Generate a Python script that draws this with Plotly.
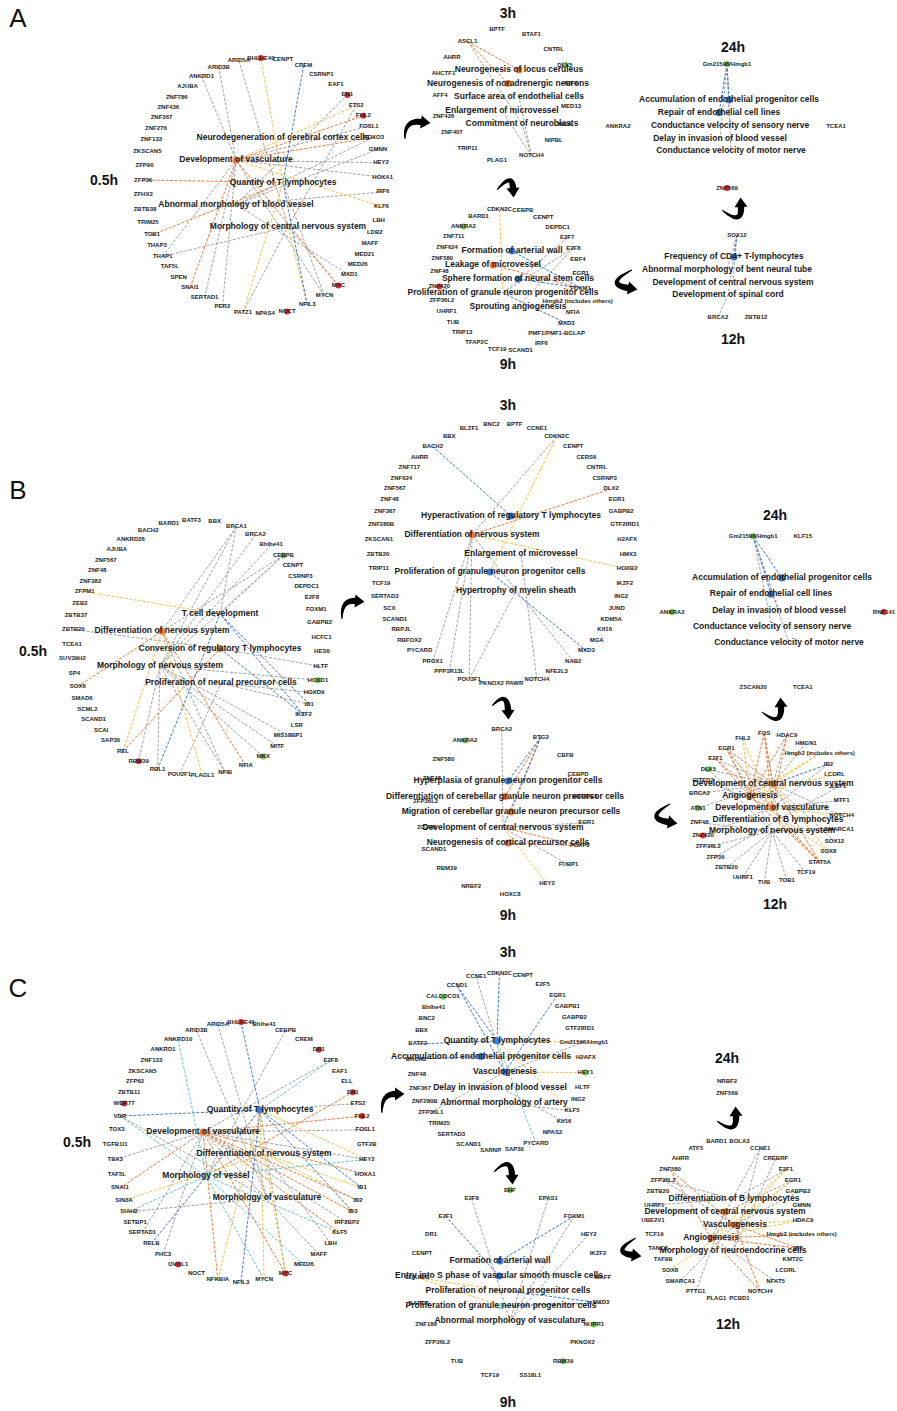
import math
import plotly.graph_objects as go

# ---------------------------------------------------------------- panel A
A05_GENES = ["AJUBA", "ANKRD1", "ARID3B", "ARID5A", "BHLHE40", "CENPT", "CREM", "CSRNP1", "EAF1", "EN1",
             "ETS2", "FHL2", "FOSL1", "FOXO3", "GMNN", "HEY2", "HOXA1", "IRF6", "KLF6", "LBH",
             "LDB2", "MAFF", "MED21", "MED26", "MXD1", "MYC", "MYCN", "NFIL3", "NOCT", "NPAS4",
             "PATZ1", "PER2", "SERTAD1", "SNAI1", "SPEN", "TAF5L", "THAP1", "THAP3", "TOB1", "TRIM25",
             "ZBTB38", "ZFHX2", "ZFP36", "ZFP90", "ZKSCAN5", "ZNF133", "ZNF276", "ZNF367", "ZNF436", "ZNF786"]
A05_FUNCS = ["Neurodegeneration of cerebral cortex cells", "Development of vasculature",
             "Quantity of T lymphocytes", "Abnormal morphology of blood vessel",
             "Morphology of central nervous system"]
A05_FUNC_STATE = [None, "act", None, None, None]
A05_REG = {"BHLHE40": "up", "EN1": "up", "FHL2": "up", "MYC": "up", "NOCT": "up"}
A05_EDGES = [("FHL2", 1, "act"), ("FOXO3", 1, "act"), ("ZFP36", 2, "act"), ("TOB1", 2, "act"),
             ("SNAI1", 1, "act"), ("MYC", 1, "act"),
             ("BHLHE40", 2, "inc"), ("ETS2", 1, "inc"), ("KLF6", 1, "inc"), ("PATZ1", 2, "inc"),
             ("NFIL3", 4, "inc"), ("CREM", 2, "inh"), ("NFIL3", 2, "inh"),
             ("ARID5A", 4, "unk"), ("ARID3B", 1, "unk"), ("ANKRD1", 1, "unk"), ("EN1", 3, "unk"),
             ("ETS2", 4, "unk"), ("FOSL1", 1, "unk"), ("GMNN", 3, "unk"), ("HEY2", 1, "unk"),
             ("HOXA1", 1, "unk"), ("IRF6", 3, "unk"), ("THAP1", 1, "unk"), ("THAP1", 4, "unk"),
             ("SERTAD1", 1, "unk"), ("PER2", 1, "unk"), ("PATZ1", 4, "unk"), ("MYCN", 1, "unk"),
             ("MYCN", 2, "unk"), ("MYC", 4, "unk"), ("MXD1", 3, "unk"), ("FOXO3", 3, "unk")]

A03_GENES = ["AFF4", "AHCTF1", "AHRR", "ASCL1", "BPTF", "BTAF1", "CNTRL", "DLX5", "IRF6", "MED13",
             "MGA", "NIPBL", "NOTCH4", "PLAG1", "TRIP11", "ZNF407", "ZNF426"]
A03_FUNCS = ["Neurogenesis of locus ceruleus", "Neurogenesis of noradrenergic neurons",
             "Surface area of endothelial cells", "Enlargement of microvessel", "Commitment of neuroblasts"]
A03_FUNC_STATE = ["act", "act", None, None, None]
A03_REG = {"DLX5": "down"}
A03_EDGES = [("ASCL1", 0, "act"), ("ASCL1", 1, "act"), ("ASCL1", 4, "unk"),
             ("NOTCH4", 2, "unk"), ("NOTCH4", 3, "unk"), ("NOTCH4", 4, "unk")]

A09_GENES = ["ANKRA2", "BARD1", "CDKN2C", "CEBPB", "CENPT", "DEPDC1", "E2F7", "E2F8", "EBF4", "EGR1",
             "FOXM1", "Hmgb2 (includes others)", "NFIA", "MXD3", "PMF1/PMF1-BGLAP", "IRF6", "SCAND1",
             "TCF19", "TFAP2C", "TRIP13", "TUB", "UHRF1", "ZFP36L2", "ZNF420", "ZNF48", "ZNF580",
             "ZNF624", "ZNF711"]
A09_FUNCS = ["Formation of arterial wall", "Leakage of microvessel", "Sphere formation of neural stem cells",
             "Proliferation of granule neuron progenitor cells", "Sprouting angiogenesis"]
A09_FUNC_STATE = ["inh", "act", "inh", None, None]
A09_REG = {"ZNF420": "up", "ANKRA2": "down"}
A09_EDGES = [("CDKN2C", 3, "inc"), ("FOXM1", 0, "inh"), ("FOXM1", 1, "act"), ("FOXM1", 2, "inh"),
             ("E2F7", 3, "unk"), ("E2F8", 3, "unk"), ("E2F8", 4, "unk"), ("MXD3", 3, "inh")]

A24_GENES = ["ANKRA2", "Gm21596/Hmgb1", "TCEA1", "ZNF569"]
A24_FUNCS = ["Accumulation of endothelial progenitor cells", "Repair of endothelial cell lines",
             "Conductance velocity of sensory nerve", "Delay in invasion of blood vessel",
             "Conductance velocity of motor nerve"]
A24_FUNC_STATE = ["inh", "inh", None, None, None]
A24_REG = {"Gm21596/Hmgb1": "down", "ZNF569": "up"}
A24_EDGES = [("Gm21596/Hmgb1", 0, "inh"), ("Gm21596/Hmgb1", 1, "inh"), ("Gm21596/Hmgb1", 2, "unk"),
             ("Gm21596/Hmgb1", 3, "unk"), ("Gm21596/Hmgb1", 4, "unk")]

A12_GENES = ["BRCA2", "SOX12", "ZBTB12"]
A12_FUNCS = ["Frequency of CD4+ T-lymphocytes", "Abnormal morphology of bent neural tube",
             "Development of central nervous system", "Development of spinal cord"]
A12_FUNC_STATE = ["inh", None, None, None]
A12_REG = {}
A12_EDGES = [("SOX12", 0, "inh"), ("SOX12", 1, "unk"), ("SOX12", 2, "unk"), ("SOX12", 3, "unk"),
             ("BRCA2", 3, "unk")]

# ---------------------------------------------------------------- panel B
B05_GENES = ["AJUBA", "ANKRD26", "BACH2", "BARD1", "BATF3", "BBX", "BRCA1", "BRCA2", "Bhlhe41", "CEBPB",
             "CENPT", "CSRNP3", "DEPDC1", "E2F8", "FOXM1", "GABPB2", "HCFC1", "HES6", "HLTF", "HOXD1",
             "HOXD9", "ID1", "IKZF2", "LSR", "MIS18BP1", "MITF", "MKX", "NFIA", "NFIB", "PLAGL1",
             "POU2F1", "RBL1", "RBM39", "REL", "SAP30", "SCAI", "SCAND1", "SCML2", "SMAD6", "SOX6",
             "SP4", "SUV39H2", "TCEA1", "ZBTB20", "ZBTB37", "ZEB2", "ZFPM1", "ZNF382", "ZNF48", "ZNF567"]
B05_FUNCS = ["T cell development", "Differentiation of nervous system",
             "Conversion of regulatory T lymphocytes", "Morphology of nervous system",
             "Proliferation of neural precursor cells"]
B05_FUNC_STATE = [None, "act", "act", None, None]
B05_REG = {"CEBPB": "down", "HOXD1": "down", "MKX": "down", "RBM39": "up"}
B05_EDGES = [("ZFPM1", 0, "inc"), ("SOX6", 1, "act"), ("ZBTB20", 2, "unk"), ("REL", 2, "act"),
             ("REL", 1, "inc"), ("RBL1", 0, "inh"), ("RBM39", 3, "unk"), ("POU2F1", 4, "unk"),
             ("PLAGL1", 1, "inc"), ("NFIB", 3, "unk"), ("NFIB", 1, "unk"), ("NFIA", 1, "act"),
             ("MKX", 3, "unk"), ("MITF", 3, "unk"), ("MIS18BP1", 3, "unk"), ("IKZF2", 0, "inh"),
             ("IKZF2", 2, "inh"), ("ID1", 0, "inh"), ("ID1", 4, "unk"), ("HOXD1", 3, "unk"),
             ("HLTF", 2, "unk"), ("HOXD9", 4, "unk"), ("CEBPB", 0, "unk"), ("CEBPB", 1, "unk"),
             ("CEBPB", 3, "unk"), ("Bhlhe41", 3, "unk"), ("BRCA1", 3, "unk"), ("BRCA1", 1, "unk"),
             ("BRCA2", 3, "unk"), ("BRCA1", 0, "unk"), ("RBL1", 3, "unk")]

B03_GENES = ["AHRR", "BACH2", "BBX", "BLZF1", "BNC2", "BPTF", "CCNE1", "CDKN2C", "CENPT", "CERS6",
             "CNTRL", "CSRNP3", "DLX2", "EGR1", "GABPB2", "GTF2IRD1", "H2AFX", "HMX3", "HOXB2", "IKZF2",
             "ING2", "JUND", "KDM5A", "Klf16", "MGA", "MXD3", "NAB2", "NFE2L3", "NOTCH4", "PAWR",
             "PKNOX2", "POU3F1", "PPP1R13L", "PROX1", "PYCARD", "RBFOX2", "RBPJL", "SCAND1", "SCX",
             "SERTAD3", "TCF19", "TRIP11", "ZBTB20", "ZKSCAN1", "ZNF280B", "ZNF367", "ZNF48", "ZNF567",
             "ZNF624", "ZNF717"]
B03_FUNCS = ["Hyperactivation of regulatory T lymphocytes", "Differentiation of nervous system",
             "Enlargement of microvessel", "Proliferation of granule neuron progenitor cells",
             "Hypertrophy of myelin sheath"]
B03_FUNC_STATE = ["inh", "act", None, "inh", None]
B03_REG = {}
B03_EDGES = [("BACH2", 0, "inh"), ("DLX2", 1, "act"), ("CDKN2C", 1, "unk"), ("CDKN2C", 3, "inc"),
             ("HOXB2", 1, "inc"), ("MXD3", 3, "inh"), ("PROX1", 1, "unk"), ("POU3F1", 1, "unk"),
             ("POU3F1", 4, "unk"), ("NAB2", 1, "unk"), ("NOTCH4", 2, "unk"), ("PPP1R13L", 1, "unk")]

B09_GENES = ["ANKRA2", "BRCA2", "BTG2", "CBFB", "CEBPD", "DEPDC1", "EGR1", "FOXP2", "FUBP1", "HEY2",
             "HOXC8", "NRBF2", "RBM39", "SCAND1", "ZC3H8", "ZFP36L2", "ZNF48", "ZNF580"]
B09_FUNCS = ["Hyperplasia of granule neuron progenitor cells",
             "Differentiation of cerebellar granule neuron precursor cells",
             "Migration of cerebellar granule neuron precursor cells",
             "Development of central nervous system", "Neurogenesis of cortical precursor cells"]
B09_FUNC_STATE = ["inh", "act", "act", None, "act"]
B09_REG = {"ANKRA2": "down"}
B09_EDGES = [("BRCA2", 3, "unk"), ("BTG2", 0, "inh"), ("BTG2", 1, "act"), ("BTG2", 2, "act"),
             ("BTG2", 3, "inh"), ("EGR1", 3, "unk"), ("FOXP2", 3, "act"), ("FOXP2", 4, "act"),
             ("FUBP1", 3, "unk"), ("HEY2", 3, "inc")]

B24_GENES = ["ANKRA2", "Gm21596/Hmgb1", "KLF15", "RNF141", "TCEA1", "ZSCAN20"]
B24_FUNCS = ["Accumulation of endothelial progenitor cells", "Repair of endothelial cell lines",
             "Delay in invasion of blood vessel", "Conductance velocity of sensory nerve",
             "Conductance velocity of motor nerve"]
B24_FUNC_STATE = ["inh", "inh", None, None, None]
B24_REG = {"Gm21596/Hmgb1": "down", "ANKRA2": "down", "RNF141": "up"}
B24_EDGES = [("Gm21596/Hmgb1", 0, "inh"), ("Gm21596/Hmgb1", 1, "inh"), ("Gm21596/Hmgb1", 2, "unk"),
             ("Gm21596/Hmgb1", 3, "unk"), ("Gm21596/Hmgb1", 4, "unk")]

B12_GENES = ["ATN1", "BRCA2", "CITED2", "DLX5", "E2F1", "EGR1", "FHL2", "FOS", "HDAC9", "HMGN1",
             "Hmgb2 (includes others)", "ID2", "LCORL", "LEF1", "MTF1", "NOTCH4", "SMARCA1", "SOX12",
             "SOX8", "STAT5A", "TCF19", "TOB1", "TUB", "UHRF1", "ZBTB20", "ZFP36", "ZFP36L2", "ZNF420",
             "ZNF48"]
B12_FUNCS = ["Development of central nervous system", "Angiogenesis", "Development of vasculature",
             "Differentiation of B lymphocytes", "Morphology of nervous system"]
B12_FUNC_STATE = ["act", "act", "act", None, None]
B12_REG = {"DLX5": "down", "ATN1": "down", "ZNF420": "up"}
B12_EDGES = [("FHL2", 1, "inc"), ("FHL2", 2, "inc"), ("FOS", 0, "act"), ("FOS", 1, "act"),
             ("FOS", 2, "act"), ("FOS", 3, "unk"), ("HDAC9", 1, "act"), ("HDAC9", 2, "act"),
             ("HDAC9", 0, "unk"), ("HMGN1", 0, "unk"), ("Hmgb2 (includes others)", 1, "inc"),
             ("Hmgb2 (includes others)", 0, "inc"), ("ID2", 0, "inh"), ("ID2", 2, "unk"),
             ("LCORL", 1, "inc"), ("LEF1", 3, "unk"), ("MTF1", 2, "unk"), ("NOTCH4", 2, "inc"),
             ("NOTCH4", 0, "unk"), ("SMARCA1", 4, "unk"), ("SOX12", 0, "unk"), ("SOX8", 1, "inc"),
             ("SOX8", 0, "inc"), ("STAT5A", 1, "act"), ("STAT5A", 2, "act"), ("STAT5A", 3, "act"),
             ("STAT5A", 0, "act"), ("TCF19", 4, "unk"), ("TOB1", 4, "unk"), ("TUB", 4, "unk"),
             ("UHRF1", 4, "unk"), ("ZBTB20", 4, "unk"), ("ZFP36", 3, "unk"), ("ZFP36L2", 4, "unk"),
             ("ZNF420", 2, "unk"), ("ZNF48", 4, "unk"), ("ATN1", 0, "unk"), ("BRCA2", 0, "unk"),
             ("CITED2", 2, "unk"), ("DLX5", 0, "unk"), ("DLX5", 4, "unk"), ("E2F1", 1, "act"),
             ("E2F1", 2, "act"), ("E2F1", 0, "unk"), ("EGR1", 1, "act"), ("EGR1", 2, "act"),
             ("EGR1", 0, "act"), ("EGR1", 4, "unk")]

# ---------------------------------------------------------------- panel C
C05_GENES = ["ANKRD1", "ANKRD10", "ARID3B", "ARID5A", "BHLHE40", "Bhlhe41", "CEBPB", "CREM", "DR1", "E2F8",
             "EAF1", "ELL", "EN1", "ETS2", "FHL2", "FOSL1", "GTF2B", "HEY2", "HOXA1", "ID1",
             "ID2", "ID3", "IRF2BP2", "KLF5", "LBH", "MAFF", "MED26", "MYC", "MYCN", "NFIL3",
             "NFKBIA", "NOCT", "OVOL1", "PHC3", "RELB", "SERTAD1", "SETBP1", "SIAH2", "SIN3A", "SNAI1",
             "TAF5L", "TBX3", "TGFB1I1", "TOX3", "VDR", "WDR77", "ZBTB11", "ZFP62", "ZKSCAN5", "ZNF133"]
C05_FUNCS = ["Quantity of T lymphocytes", "Development of vasculature", "Differentiation of nervous system",
             "Morphology of vessel", "Morphology of vasculature"]
C05_FUNC_STATE = ["inh", "act", None, "aff", None]
C05_REG = {"BHLHE40": "up", "DR1": "up", "EN1": "up", "FHL2": "up", "MYC": "up", "WDR77": "up",
           "OVOL1": "up"}
C05_EDGES = [("VDR", 0, "inh"), ("VDR", 3, "aff"), ("VDR", 4, "unk"), ("BHLHE40", 0, "inh"),
             ("NFIL3", 0, "inh"), ("RELB", 0, "inh"), ("ID1", 0, "inh"), ("ID3", 0, "inh"),
             ("ANKRD10", 3, "aff"), ("E2F8", 0, "aff"), ("E2F8", 1, "unk"), ("ETS2", 0, "unk"),
             ("FHL2", 1, "act"), ("EN1", 3, "act"), ("HOXA1", 1, "act"), ("ID3", 1, "act"),
             ("KLF5", 1, "act"), ("KLF5", 3, "aff"), ("MYC", 1, "act"), ("MYC", 2, "inc"),
             ("SNAI1", 1, "act"), ("NFKBIA", 0, "inc"), ("NFKBIA", 1, "act"), ("MYCN", 0, "inc"),
             ("MYCN", 3, "aff"), ("SIN3A", 2, "inc"), ("ID2", 2, "inc"), ("ID1", 2, "inc"),
             ("HEY2", 1, "unk"), ("HEY2", 3, "aff"), ("SIAH2", 3, "aff"), ("SIAH2", 4, "unk"),
             ("MED26", 3, "aff"), ("IRF2BP2", 1, "unk"), ("FOSL1", 1, "unk"), ("ARID5A", 4, "unk"),
             ("ARID3B", 4, "unk"), ("CEBPB", 3, "unk"), ("TBX3", 1, "unk"), ("SERTAD1", 1, "unk"),
             ("PHC3", 1, "unk"), ("LBH", 2, "unk"), ("MAFF", 1, "unk"), ("ID2", 1, "act"),
             ("HEY2", 0, "inc"), ("MYC", 0, "unk")]

C03_GENES = ["BACH2", "BATF3", "BBX", "BNC2", "Bhlhe41", "CALCOCO1", "CCND1", "CCNE1", "CDKN2C", "CENPT",
             "E2F5", "EGR1", "GABPB1", "GABPB2", "GTF2IRD1", "Gm21596/Hmgb1", "H2AFX", "HEY1", "HLTF",
             "ING2", "KLF5", "Klf16", "NPAS2", "PYCARD", "SAP30", "SARNP", "SCAND1", "SERTAD3", "TRIM25",
             "ZFP36L1", "ZNF280B", "ZNF367", "ZNF48"]
C03_FUNCS = ["Quantity of T lymphocytes", "Accumulation of endothelial progenitor cells", "Vasculogenesis",
             "Delay in invasion of blood vessel", "Abnormal morphology of artery"]
C03_FUNC_STATE = ["inh", "inh", "inh", None, None]
C03_REG = {"CALCOCO1": "down", "HEY1": "down"}
C03_EDGES = [("CCND1", 0, "inh"), ("CCND1", 2, "inh"), ("CDKN2C", 0, "inh"), ("CCNE1", 2, "unk"),
             ("EGR1", 2, "inh"), ("BATF3", 0, "inh"), ("BACH2", 1, "inh"), ("Gm21596/Hmgb1", 0, "inc"),
             ("Gm21596/Hmgb1", 2, "unk"), ("H2AFX", 1, "inc"), ("HEY1", 2, "inc"), ("KLF5", 0, "inc"),
             ("PYCARD", 0, "aff"), ("ZFP36L1", 2, "unk"), ("KLF5", 4, "unk"), ("Klf16", 3, "unk")]

C09_GENES = ["BARD1", "CDKN2C", "CENPT", "DR1", "E2F1", "E2F8", "EHF", "EPAS1", "FOXM1", "HEY2",
             "IKZF2", "MAFF", "MXD3", "NUPR1", "PKNOX2", "RBM39", "SS18L1", "TCF19", "TUB", "ZFP36L2",
             "ZNF189"]
C09_FUNCS = ["Formation of arterial wall", "Entry into S phase of vascular smooth muscle cells",
             "Proliferation of neuronal progenitor cells", "Proliferation of granule neuron progenitor cells",
             "Abnormal morphology of vasculature"]
C09_FUNC_STATE = ["inh", "inh", None, "aff", None]
C09_REG = {"EHF": "down", "NUPR1": "down", "RBM39": "down"}
C09_EDGES = [("E2F1", 1, "inh"), ("FOXM1", 0, "inh"), ("E2F8", 4, "unk"), ("EPAS1", 4, "unk"),
             ("FOXM1", 4, "unk"), ("HEY2", 4, "unk"), ("CDKN2C", 2, "inc"), ("CDKN2C", 3, "inc"),
             ("MXD3", 2, "inh"), ("MXD3", 3, "inh")]

C24_GENES = ["NRBF2", "ZNF569"]
C24_FUNCS = []
C24_FUNC_STATE = []
C24_REG = {}
C24_EDGES = []

C12_GENES = ["AHRR", "ATF5", "BARD1", "BOLA3", "CCNE1", "CREBRF", "E2F1", "EGR1", "GABPB2", "GMNN",
             "HDAC9", "Hmgb2 (includes others)", "ID2", "KMT2C", "LCORL", "NFAT5", "NOTCH4", "PCBD1",
             "PLAG1", "PTTG1", "SMARCA1", "SOX8", "TAF9B", "TANC2", "TCF19", "UBE2V1", "UHRF1", "ZBTB20",
             "ZFP36L2", "ZNF580"]
C12_FUNCS = ["Differentiation of B lymphocytes", "Development of central nervous system", "Vasculogenesis",
             "Angiogenesis", "Morphology of neuroendocrine cells"]
C12_FUNC_STATE = [None, "act", "act", "act", None]
C12_REG = {}
C12_EDGES = [("ZNF580", 3, "act"), ("ZNF580", 2, "act"), ("ZFP36L2", 0, "unk"), ("ZFP36L2", 2, "unk"),
             ("E2F1", 3, "inc"), ("E2F1", 2, "inc"), ("E2F1", 0, "unk"), ("EGR1", 3, "inc"),
             ("EGR1", 2, "inc"), ("EGR1", 1, "unk"), ("HDAC9", 2, "inc"), ("HDAC9", 3, "inc"),
             ("Hmgb2 (includes others)", 3, "act"), ("ID2", 2, "act"), ("ID2", 3, "act"),
             ("NOTCH4", 3, "act"), ("NOTCH4", 2, "act"), ("SOX8", 2, "inc"), ("CCNE1", 3, "unk"),
             ("CCNE1", 4, "unk"), ("SMARCA1", 2, "unk"), ("PTTG1", 1, "unk"), ("NFAT5", 3, "unk"),
             ("GABPB2", 2, "unk"), ("UHRF1", 0, "unk"), ("CREBRF", 4, "unk")]

# ------------------------------------------------------------ layout setup
# circle placement of gene nodes: centre, radii, angle of the first node and
# two angular warp terms (spread at top/bottom, denser at the sides);
# function labels are stacked in the middle of each network
W, H = 897, 1411
NETS = [
    dict(genes=A05_GENES, funcs=A05_FUNCS, fstate=A05_FUNC_STATE, reg=A05_REG, edges=A05_EDGES,
         cx=263, cy=186, rx=120, ry=128, start=-29.5, warp=8, warp2=2.9,
         fx=[283, 236, 283, 236, 288], fy0=138, fdy=22.2, tag="0.5h", tx=104, ty=181),
    dict(genes=A03_GENES, funcs=A03_FUNCS, fstate=A03_FUNC_STATE, reg=A03_REG, edges=A03_EDGES,
         cx=506, cy=95, rx=66, ry=66, start=270, warp=8, warp2=2.9,
         fx=[519, 508, 519, 502, 522], fy0=70, fdy=13.5, tag="3h", tx=508, ty=14),
    dict(genes=A09_GENES, funcs=A09_FUNCS, fstate=A09_FUNC_STATE, reg=A09_REG, edges=A09_EDGES,
         cx=510, cy=280, rx=71, ry=71, start=-31.5, warp=8, warp2=2.9,
         fx=[512, 493, 518, 503, 518], fy0=251, fdy=14, tag="9h", tx=508, ty=365),
    dict(genes=A24_GENES, funcs=A24_FUNCS, fstate=A24_FUNC_STATE, reg=A24_REG, edges=A24_EDGES,
         cx=727, cy=126, rx=109, ry=62, start=270, warp=0, warp2=0,
         fx=[729, 719, 730, 720, 731], fy0=100, fdy=12.8, tag="24h", tx=733, ty=48),
    dict(genes=A12_GENES, funcs=A12_FUNCS, fstate=A12_FUNC_STATE, reg=A12_REG, edges=A12_EDGES,
         cx=737, cy=290, rx=22, ry=55, start=240, warp=0, warp2=0,
         fx=[734, 727, 733, 728], fy0=257, fdy=12.7, tag="12h", tx=733, ty=340),
    dict(genes=B05_GENES, funcs=B05_FUNCS, fstate=B05_FUNC_STATE, reg=B05_REG, edges=B05_EDGES,
         cx=197, cy=648, rx=125, ry=128, start=-30.5, warp=8, warp2=2.9,
         fx=[220, 162, 220, 160, 221], fy0=614, fdy=17.3, tag="0.5h", tx=33, ty=652),
    dict(genes=B03_GENES, funcs=B03_FUNCS, fstate=B03_FUNC_STATE, reg=B03_REG, edges=B03_EDGES,
         cx=503, cy=554, rx=125, ry=130, start=-32.4, warp=8, warp2=2.9,
         fx=[511, 472, 521, 490, 516], fy0=516, fdy=18.7, tag="3h", tx=508, ty=406),
    dict(genes=B09_GENES, funcs=B09_FUNCS, fstate=B09_FUNC_STATE, reg=B09_REG, edges=B09_EDGES,
         cx=506, cy=812, rx=81, ry=83, start=-22, warp=8, warp2=2.9,
         fx=[508, 505, 511, 503, 508], fy0=781, fdy=15.5, tag="9h", tx=508, ty=916),
    dict(genes=B24_GENES, funcs=B24_FUNCS, fstate=B24_FUNC_STATE, reg=B24_REG, edges=B24_EDGES,
         cx=778, cy=612, rx=106, ry=78, start=270, warp=-19, warp2=0,
         fx=[782, 771, 779, 772, 789], fy0=578, fdy=16.3, tag="24h", tx=775, ty=516),
    dict(genes=B12_GENES, funcs=B12_FUNCS, fstate=B12_FUNC_STATE, reg=B12_REG, edges=B12_EDGES,
         cx=770, cy=808, rx=72, ry=75, start=270, warp=8, warp2=2.9,
         fx=[773, 750, 772, 778, 772], fy0=784, fdy=11.8, tag="12h", tx=775, ty=905),
    dict(genes=C05_GENES, funcs=C05_FUNCS, fstate=C05_FUNC_STATE, reg=C05_REG, edges=C05_EDGES,
         cx=241, cy=1152, rx=126, ry=130, start=-28.8, warp=8, warp2=2.9,
         fx=[260, 203, 264, 206, 267], fy0=1110, fdy=22, tag="0.5h", tx=77, ty=1143),
    dict(genes=C03_GENES, funcs=C03_FUNCS, fstate=C03_FUNC_STATE, reg=C03_REG, edges=C03_EDGES,
         cx=501, cy=1062, rx=85, ry=89, start=-88, warp=8, warp2=2.9,
         fx=[497, 481, 505, 500, 504], fy0=1041, fdy=15.5, tag="3h", tx=508, ty=953),
    dict(genes=C09_GENES, funcs=C09_FUNCS, fstate=C09_FUNC_STATE, reg=C09_REG, edges=C09_EDGES,
         cx=510, cy=1284, rx=93, ry=94, start=-102.9, warp=8, warp2=2.9,
         fx=[500, 499, 508, 501, 510], fy0=1261, fdy=15, tag="9h", tx=508, ty=1403),
    dict(genes=C24_GENES, funcs=C24_FUNCS, fstate=C24_FUNC_STATE, reg=C24_REG, edges=C24_EDGES,
         cx=727, cy=1087, rx=0, ry=6, start=0, warp=0, warp2=0,
         fx=[], fy0=0, fdy=0, tag="24h", tx=727, ty=1059),
    dict(genes=C12_GENES, funcs=C12_FUNCS, fstate=C12_FUNC_STATE, reg=C12_REG, edges=C12_EDGES,
         cx=728, cy=1220, rx=75, ry=79, start=-30, warp=8, warp2=2.9,
         fx=[734, 725, 735, 711, 733], fy0=1199, fdy=13, tag="12h", tx=728, ty=1325),
]

PANELS = [("A", 18, 20), ("B", 18, 492), ("C", 18, 990)]

# curved arrows between time points: tail, control point, head base
ARROWS = [((405, 139), (404, 120), (421, 122)), ((497, 190), (512, 172), (513, 188)),
          ((632, 270), (604, 284), (628, 288)), ((722, 210), (742, 226), (741, 207)),
          ((342, 619), (341, 600), (355, 601)), ((492, 706), (507, 690), (508, 710)),
          ((670, 804), (644, 818), (668, 822)), ((762, 712), (782, 728), (781, 707)),
          ((382, 1113), (381, 1094), (395, 1094)), ((494, 1172), (511, 1155), (512, 1175)),
          ((636, 1238), (611, 1252), (632, 1255)), ((717, 1121), (737, 1136), (736, 1116))]

EDGE_COLORS = {"unk": "#a3a3a3", "act": "#f07a35", "inh": "#3d7bd6", "inc": "#f0c445", "aff": "#66c7d4"}
NODE_COLORS = {"act": "#f07a35", "inh": "#3d7bd6", "inc": "#f0c445", "aff": "#8fd6e0"}
REG_COLORS = {"up": "#e3262f", "down": "#6cc04a"}
FONT = "Arial, 'Liberation Sans', sans-serif"


def gene_positions(net):
    n = len(net["genes"])
    step = 360.0 / n
    pos = {}
    for i, g in enumerate(net["genes"]):
        th = net["start"] + i * step
        phi = th + net["warp"] * math.sin(math.radians(2 * th)) \
            + net["warp2"] * math.sin(math.radians(4 * th))
        phi = math.radians(phi)
        pos[g] = (net["cx"] + net["rx"] * math.sin(phi), net["cy"] - net["ry"] * math.cos(phi))
    return pos


def func_positions(net):
    return [(net["fx"][i], net["fy0"] + i * net["fdy"]) for i in range(len(net["funcs"]))]


def arrow_path(tail, ctrl, end, head_len=9.5, head_w=13.0, w0=0.8, w1=6.5):
    left, right = [], []
    n = 24
    for k in range(n + 1):
        t = k / n
        bx = (1 - t) ** 2 * tail[0] + 2 * (1 - t) * t * ctrl[0] + t * t * end[0]
        by = (1 - t) ** 2 * tail[1] + 2 * (1 - t) * t * ctrl[1] + t * t * end[1]
        dx = 2 * (1 - t) * (ctrl[0] - tail[0]) + 2 * t * (end[0] - ctrl[0])
        dy = 2 * (1 - t) * (ctrl[1] - tail[1]) + 2 * t * (end[1] - ctrl[1])
        ln = math.hypot(dx, dy) or 1.0
        nx, ny = -dy / ln, dx / ln
        w = w0 + (w1 - w0) * t ** 0.7
        left.append((bx + nx * w / 2, by + ny * w / 2))
        right.append((bx - nx * w / 2, by - ny * w / 2))
    ux, uy = dx / ln, dy / ln
    hl = (end[0] + nx * head_w / 2, end[1] + ny * head_w / 2)
    hr = (end[0] - nx * head_w / 2, end[1] - ny * head_w / 2)
    tip = (end[0] + ux * head_len, end[1] + uy * head_len)
    pts = left + [hl, tip, hr] + right[::-1]
    return "M " + " L ".join(f"{x:.1f},{y:.1f}" for x, y in pts) + " Z"


fig = go.Figure()

edge_xy = {k: ([], []) for k in EDGE_COLORS}
fn_nodes = {k: ([], []) for k in NODE_COLORS}
reg_nodes = {k: ([], []) for k in REG_COLORS}
gx, gy, gt = [], [], []
fx, fy, ft = [], [], []
tx, ty, tt = [], [], []

for net in NETS:
    gpos = gene_positions(net)
    fpos = func_positions(net)
    for g, fi, kind in net["edges"]:
        (x0, y0), (x1, y1) = gpos[g], fpos[fi]
        xs, ys = edge_xy[kind]
        xs += [x0, x1, None]
        ys += [y0, y1, None]
    for i, st in enumerate(net["fstate"]):
        if st:
            fn_nodes[st][0].append(fpos[i][0])
            fn_nodes[st][1].append(fpos[i][1])
    for g, st in net["reg"].items():
        reg_nodes[st][0].append(gpos[g][0])
        reg_nodes[st][1].append(gpos[g][1])
    for g in net["genes"]:
        gx.append(gpos[g][0]); gy.append(gpos[g][1]); gt.append(f"<b>{g}</b>")
    for i, f in enumerate(net["funcs"]):
        fx.append(fpos[i][0]); fy.append(fpos[i][1]); ft.append(f"<b>{f}</b>")
    tx.append(net["tx"]); ty.append(net["ty"]); tt.append(f"<b>{net['tag']}</b>")

# relationship lines, grey first so the coloured ones sit on top
for kind in ["unk", "aff", "inc", "act", "inh"]:
    xs, ys = edge_xy[kind]
    fig.add_trace(go.Scatter(x=xs, y=ys, mode="lines", hoverinfo="skip", showlegend=False,
                             line=dict(color=EDGE_COLORS[kind], width=1, dash="3px,1.5px")))

for kind, (xs, ys) in fn_nodes.items():
    if xs:
        fig.add_trace(go.Scatter(x=xs, y=ys, mode="markers", hoverinfo="skip", showlegend=False,
                                 marker=dict(color=NODE_COLORS[kind], size=7, line=dict(width=0))))

for kind, (xs, ys) in reg_nodes.items():
    fig.add_trace(go.Scatter(x=xs, y=ys, mode="markers", hoverinfo="skip", showlegend=False,
                             marker=dict(color=REG_COLORS[kind], size=6, symbol="circle",
                                         line=dict(width=0))))

fig.add_trace(go.Scatter(x=gx, y=gy, text=gt, mode="text", textposition="middle center",
                         hoverinfo="skip", showlegend=False,
                         textfont=dict(family=FONT, size=6, color="#1c1c1c")))
fig.add_trace(go.Scatter(x=fx, y=fy, text=ft, mode="text", textposition="middle center",
                         hoverinfo="skip", showlegend=False,
                         textfont=dict(family=FONT, size=8.5, color="#1a1a1a")))
fig.add_trace(go.Scatter(x=tx, y=ty, text=tt, mode="text", textposition="middle center",
                         hoverinfo="skip", showlegend=False,
                         textfont=dict(family=FONT, size=14, color="#111111")))
fig.add_trace(go.Scatter(x=[p[1] for p in PANELS], y=[p[2] for p in PANELS],
                         text=[p[0] for p in PANELS], mode="text", textposition="middle center",
                         hoverinfo="skip", showlegend=False,
                         textfont=dict(family=FONT, size=26, color="#111111")))

shapes = [dict(type="path", path=arrow_path(*a), fillcolor="#000000", line=dict(width=0),
               layer="above", xref="x", yref="y") for a in ARROWS]

fig.update_layout(
    width=W, height=H, autosize=False,
    margin=dict(l=0, r=0, t=0, b=0, pad=0),
    paper_bgcolor="white", plot_bgcolor="white",
    xaxis=dict(range=[0, W], visible=False, fixedrange=True),
    yaxis=dict(range=[H, 0], visible=False, fixedrange=True),
    shapes=shapes,
)

fig.write_html("out.html")
